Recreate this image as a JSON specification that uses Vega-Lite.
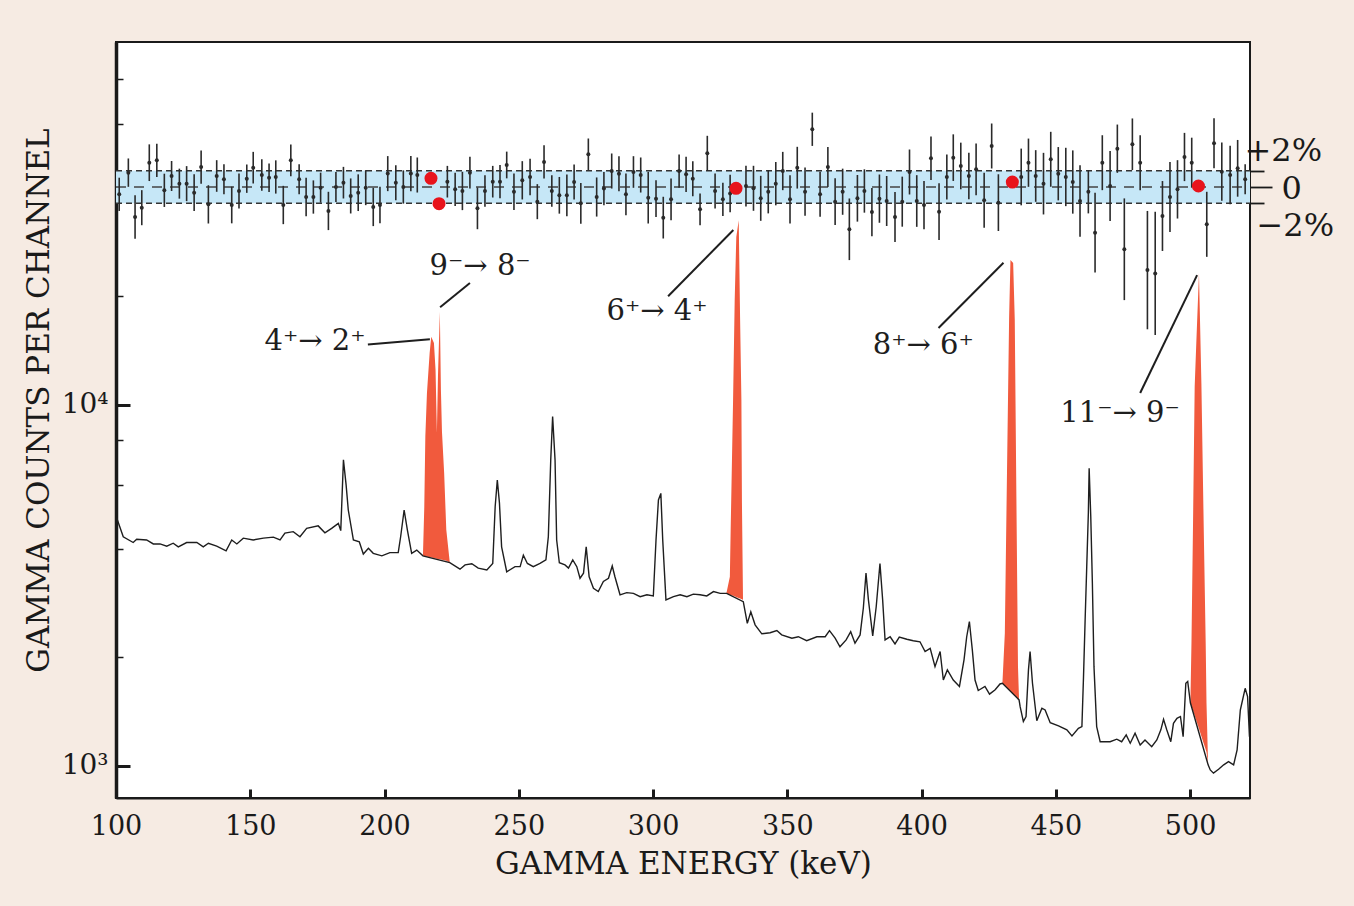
{
  "$schema": "https://vega.github.io/schema/vega-lite/v6.json",
  "description": "Gamma-ray spectrum with residuals band",
  "width": 1134,
  "height": 756,
  "autosize": {"type": "none"},
  "padding": {"left": 116, "top": 42, "right": 104, "bottom": 108},
  "background": "#f6ebe3",
  "config": {
    "font": "DejaVu Serif",
    "view": {"stroke": "#1a1a1a", "strokeWidth": 2, "fill": "white"},
    "axis": {
      "labelFont": "DejaVu Serif",
      "titleFont": "DejaVu Serif",
      "labelFontSize": 27,
      "titleFontSize": 31,
      "titleFontWeight": "normal",
      "labelColor": "#1a1a1a",
      "titleColor": "#1a1a1a",
      "domainColor": "#1a1a1a",
      "tickColor": "#1a1a1a",
      "grid": false
    }
  },
  "datasets": {
    "spec": [
      {"e": 100.3, "c": 4853}, {"e": 102.7, "c": 4315}, {"e": 106.4, "c": 4159}, {"e": 107.7, "c": 4246},
      {"e": 111.4, "c": 4227}, {"e": 113.9, "c": 4121}, {"e": 116.4, "c": 4121}, {"e": 118.9, "c": 4064},
      {"e": 121.3, "c": 4140}, {"e": 123.2, "c": 4046}, {"e": 126.3, "c": 4159}, {"e": 130.1, "c": 4159},
      {"e": 132.5, "c": 4046}, {"e": 134.4, "c": 4140}, {"e": 137.5, "c": 4064}, {"e": 141.0, "c": 3945},
      {"e": 143.1, "c": 4227}, {"e": 145.0, "c": 4121}, {"e": 147.4, "c": 4276}, {"e": 151.1, "c": 4227},
      {"e": 154.9, "c": 4276}, {"e": 158.6, "c": 4305}, {"e": 161.1, "c": 4227}, {"e": 162.9, "c": 4416},
      {"e": 166.0, "c": 4457}, {"e": 168.5, "c": 4315}, {"e": 171.0, "c": 4550}, {"e": 175.3, "c": 4624},
      {"e": 177.8, "c": 4426}, {"e": 180.3, "c": 4550}, {"e": 182.8, "c": 4699}, {"e": 183.7, "c": 4487},
      {"e": 184.7, "c": 7047}, {"e": 185.7, "c": 5998}, {"e": 186.5, "c": 5117}, {"e": 188.4, "c": 4227},
      {"e": 190.6, "c": 4178}, {"e": 192.1, "c": 3864}, {"e": 194.0, "c": 4009}, {"e": 195.8, "c": 3882},
      {"e": 199.0, "c": 3819}, {"e": 202.0, "c": 3899}, {"e": 205.1, "c": 3899}, {"e": 206.0, "c": 4315},
      {"e": 207.3, "c": 5117}, {"e": 208.5, "c": 4508}, {"e": 210.1, "c": 3882}, {"e": 212.0, "c": 3963},
      {"e": 214.3, "c": 3820}, {"e": 224.3, "c": 3660}, {"e": 228.1, "c": 3508}, {"e": 230.0, "c": 3606},
      {"e": 232.5, "c": 3631}, {"e": 234.9, "c": 3532}, {"e": 238.1, "c": 3491}, {"e": 240.3, "c": 3639},
      {"e": 241.2, "c": 5224}, {"e": 242.0, "c": 6194}, {"e": 242.8, "c": 5346}, {"e": 243.6, "c": 4046},
      {"e": 245.5, "c": 3451}, {"e": 248.6, "c": 3565}, {"e": 250.5, "c": 3565}, {"e": 251.7, "c": 3837},
      {"e": 253.2, "c": 3639}, {"e": 255.4, "c": 3565}, {"e": 257.9, "c": 3639}, {"e": 260.1, "c": 3724},
      {"e": 261.0, "c": 4315}, {"e": 261.9, "c": 7047}, {"e": 262.6, "c": 9290}, {"e": 263.5, "c": 7047},
      {"e": 264.1, "c": 4227}, {"e": 265.1, "c": 3656}, {"e": 267.2, "c": 3606}, {"e": 268.5, "c": 3532},
      {"e": 270.1, "c": 3724}, {"e": 271.6, "c": 3565}, {"e": 272.8, "c": 3311}, {"e": 274.1, "c": 3420},
      {"e": 275.1, "c": 4046}, {"e": 276.2, "c": 3342}, {"e": 277.8, "c": 3105}, {"e": 279.6, "c": 3041},
      {"e": 281.5, "c": 3243}, {"e": 283.4, "c": 3311}, {"e": 284.8, "c": 3581}, {"e": 285.8, "c": 3342},
      {"e": 287.7, "c": 2979}, {"e": 290.2, "c": 3020}, {"e": 292.7, "c": 3006}, {"e": 295.2, "c": 2944},
      {"e": 297.7, "c": 2979}, {"e": 300.1, "c": 2958}, {"e": 301.1, "c": 4227}, {"e": 302.0, "c": 5458},
      {"e": 302.9, "c": 5689}, {"e": 303.6, "c": 4227}, {"e": 304.8, "c": 2884}, {"e": 307.6, "c": 2944},
      {"e": 310.1, "c": 2979}, {"e": 312.6, "c": 2944}, {"e": 315.0, "c": 2992}, {"e": 317.5, "c": 2979},
      {"e": 320.0, "c": 2958}, {"e": 322.5, "c": 3041}, {"e": 325.0, "c": 3006}, {"e": 327.4, "c": 3006},
      {"e": 333.6, "c": 2851}, {"e": 335.1, "c": 2483}, {"e": 336.4, "c": 2673}, {"e": 338.0, "c": 2460},
      {"e": 340.5, "c": 2323}, {"e": 343.6, "c": 2339}, {"e": 346.1, "c": 2371}, {"e": 347.9, "c": 2307},
      {"e": 351.7, "c": 2259}, {"e": 354.1, "c": 2280}, {"e": 357.2, "c": 2223}, {"e": 361.0, "c": 2280},
      {"e": 364.1, "c": 2280}, {"e": 365.7, "c": 2371}, {"e": 367.8, "c": 2259}, {"e": 369.6, "c": 2138},
      {"e": 371.9, "c": 2234}, {"e": 373.6, "c": 2355}, {"e": 375.2, "c": 2188}, {"e": 377.1, "c": 2307},
      {"e": 378.3, "c": 2735}, {"e": 379.3, "c": 3420}, {"e": 380.2, "c": 2884}, {"e": 381.8, "c": 2291},
      {"e": 383.1, "c": 2761}, {"e": 384.5, "c": 3639}, {"e": 385.5, "c": 2884}, {"e": 386.4, "c": 2234},
      {"e": 388.3, "c": 2280}, {"e": 390.1, "c": 2178}, {"e": 391.7, "c": 2275}, {"e": 394.5, "c": 2244},
      {"e": 396.9, "c": 2223}, {"e": 399.4, "c": 2208}, {"e": 401.3, "c": 2075}, {"e": 403.2, "c": 2118},
      {"e": 405.0, "c": 1884}, {"e": 406.9, "c": 2075}, {"e": 408.1, "c": 1730}, {"e": 409.6, "c": 1845},
      {"e": 411.8, "c": 1730}, {"e": 414.1, "c": 1660}, {"e": 415.8, "c": 1968}, {"e": 416.8, "c": 2280},
      {"e": 417.8, "c": 2512}, {"e": 418.9, "c": 2094}, {"e": 419.9, "c": 1730}, {"e": 421.1, "c": 1618},
      {"e": 423.6, "c": 1660}, {"e": 425.3, "c": 1581}, {"e": 427.4, "c": 1626}, {"e": 429.2, "c": 1687},
      {"e": 430.1, "c": 1694}, {"e": 436.3, "c": 1524}, {"e": 436.7, "c": 1459}, {"e": 437.9, "c": 1327},
      {"e": 438.9, "c": 1371}, {"e": 439.8, "c": 1845}, {"e": 440.4, "c": 2075}, {"e": 441.3, "c": 1694},
      {"e": 442.9, "c": 1334}, {"e": 444.8, "c": 1445}, {"e": 446.0, "c": 1429}, {"e": 447.9, "c": 1318},
      {"e": 451.0, "c": 1291}, {"e": 454.1, "c": 1259}, {"e": 456.0, "c": 1211}, {"e": 458.4, "c": 1271},
      {"e": 459.7, "c": 1285}, {"e": 460.3, "c": 1766}, {"e": 460.9, "c": 2535}, {"e": 461.5, "c": 3565},
      {"e": 462.1, "c": 5012}, {"e": 462.4, "c": 6683}, {"e": 463.0, "c": 4909}, {"e": 463.6, "c": 3206},
      {"e": 464.2, "c": 1884}, {"e": 465.2, "c": 1285}, {"e": 466.5, "c": 1167}, {"e": 470.2, "c": 1167},
      {"e": 472.7, "c": 1186}, {"e": 474.5, "c": 1167}, {"e": 476.2, "c": 1219}, {"e": 477.7, "c": 1156},
      {"e": 479.5, "c": 1233}, {"e": 481.4, "c": 1143}, {"e": 483.2, "c": 1180}, {"e": 485.7, "c": 1130},
      {"e": 487.6, "c": 1180}, {"e": 489.1, "c": 1259}, {"e": 490.1, "c": 1346}, {"e": 491.3, "c": 1259},
      {"e": 492.8, "c": 1167}, {"e": 493.8, "c": 1312}, {"e": 495.1, "c": 1355}, {"e": 496.4, "c": 1371},
      {"e": 497.4, "c": 1205}, {"e": 498.4, "c": 1694}, {"e": 499.1, "c": 1714}, {"e": 500.1, "c": 1496},
      {"e": 506.7, "c": 1007}, {"e": 507.5, "c": 975}, {"e": 508.7, "c": 955}, {"e": 510.6, "c": 979},
      {"e": 512.5, "c": 1007}, {"e": 514.3, "c": 1028}, {"e": 516.2, "c": 1007}, {"e": 517.5, "c": 1107},
      {"e": 518.7, "c": 1429}, {"e": 520.5, "c": 1641}, {"e": 521.4, "c": 1556}, {"e": 522.1, "c": 1205}
    ],
    "peaks": [
      {"p": "a", "e": 214.3, "c": 3820, "b": 3820}, {"p": "a", "e": 214.8, "c": 5200, "b": 3814},
      {"p": "a", "e": 215.2, "c": 8200, "b": 3808}, {"p": "a", "e": 215.8, "c": 10800, "b": 3800},
      {"p": "a", "e": 216.8, "c": 13930, "b": 3790}, {"p": "a", "e": 217.4, "c": 15460, "b": 3780},
      {"p": "a", "e": 218.4, "c": 14860, "b": 3765}, {"p": "a", "e": 219.0, "c": 12500, "b": 3758},
      {"p": "a", "e": 219.5, "c": 8360, "b": 3750}, {"p": "a", "e": 219.9, "c": 12000, "b": 3745},
      {"p": "a", "e": 220.6, "c": 18120, "b": 3735}, {"p": "a", "e": 221.0, "c": 11000, "b": 3730},
      {"p": "a", "e": 221.4, "c": 8400, "b": 3725}, {"p": "a", "e": 222.2, "c": 6490, "b": 3715},
      {"p": "a", "e": 223.0, "c": 4510, "b": 3700}, {"p": "a", "e": 224.3, "c": 3660, "b": 3660},
      {"p": "b", "e": 327.3, "c": 3006, "b": 3006}, {"p": "b", "e": 328.6, "c": 3342, "b": 2980},
      {"p": "b", "e": 328.9, "c": 4508, "b": 2975}, {"p": "b", "e": 329.8, "c": 10320, "b": 2960},
      {"p": "b", "e": 330.4, "c": 19540, "b": 2950}, {"p": "b", "e": 331.0, "c": 29220, "b": 2935},
      {"p": "b", "e": 331.9, "c": 32500, "b": 2920}, {"p": "b", "e": 332.4, "c": 17570, "b": 2910},
      {"p": "b", "e": 332.9, "c": 10320, "b": 2900}, {"p": "b", "e": 333.1, "c": 5358, "b": 2895},
      {"p": "b", "e": 333.5, "c": 2884, "b": 2884},
      {"p": "c", "e": 430.1, "c": 1694, "b": 1694}, {"p": "c", "e": 431.0, "c": 2333, "b": 1670},
      {"p": "c", "e": 431.8, "c": 6471, "b": 1650}, {"p": "c", "e": 432.6, "c": 17570, "b": 1625},
      {"p": "c", "e": 433.1, "c": 25230, "b": 1612}, {"p": "c", "e": 434.1, "c": 24730, "b": 1585},
      {"p": "c", "e": 434.7, "c": 17190, "b": 1570}, {"p": "c", "e": 435.3, "c": 5575, "b": 1555},
      {"p": "c", "e": 435.9, "c": 1884, "b": 1540}, {"p": "c", "e": 436.3, "c": 1524, "b": 1524},
      {"p": "d", "e": 500.1, "c": 1496, "b": 1496}, {"p": "d", "e": 500.5, "c": 2188, "b": 1466},
      {"p": "d", "e": 501.1, "c": 4797, "b": 1422}, {"p": "d", "e": 501.7, "c": 11240, "b": 1379},
      {"p": "d", "e": 502.3, "c": 14820, "b": 1337}, {"p": "d", "e": 503.3, "c": 23180, "b": 1268},
      {"p": "d", "e": 504.2, "c": 11480, "b": 1209}, {"p": "d", "e": 505.1, "c": 4418, "b": 1152},
      {"p": "d", "e": 505.8, "c": 2188, "b": 1110}, {"p": "d", "e": 506.1, "c": 1493, "b": 1093},
      {"p": "d", "e": 506.7, "c": 1007, "b": 1007}
    ],
    "notes": [
      {"e": 174.1, "c": 15000, "t": "4⁺→ 2⁺"},
      {"e": 235.6, "c": 24300, "t": "9⁻→ 8⁻"},
      {"e": 301.5, "c": 18200, "t": "6⁺→ 4⁺"},
      {"e": 400.6, "c": 14660, "t": "8⁺→ 6⁺"},
      {"e": 473.9, "c": 9500, "t": "11⁻→ 9⁻"}
    ],
    "leads": [
      {"e": 193.8, "c": 14700, "e2": 216.9, "c2": 15200},
      {"e": 220.7, "c": 18660, "e2": 231.8, "c2": 21770},
      {"e": 305.6, "c": 20000, "e2": 329.9, "c2": 30540},
      {"e": 406.3, "c": 16340, "e2": 430.5, "c2": 24780},
      {"e": 481.4, "c": 10790, "e2": 502.6, "c2": 22900}
    ],
    "band": [{"e": 100, "e2": 522.3, "lo": -2, "hi": 2}],
    "edges": [{"e": 100, "e2": 522.3, "v": 2}, {"e": 100, "e2": 522.3, "v": -2}],
    "mid": [{"e": 100, "e2": 522.3, "v": 0}],
    "res": [
      {"e": 101.2, "r": -0.90, "err": 2.04}, {"e": 104.6, "r": 1.76, "err": 1.74}, {"e": 107.1, "r": -3.68, "err": 2.66},
      {"e": 109.6, "r": -2.54, "err": 2.15}, {"e": 112.4, "r": 2.98, "err": 2.25}, {"e": 115.2, "r": 3.27, "err": 2.04},
      {"e": 118.0, "r": -0.41, "err": 2.04}, {"e": 120.7, "r": 1.35, "err": 1.84}, {"e": 123.6, "r": 0.41, "err": 1.84},
      {"e": 126.3, "r": 0.41, "err": 2.15}, {"e": 129.1, "r": -0.70, "err": 2.25}, {"e": 131.7, "r": 2.45, "err": 2.04},
      {"e": 134.4, "r": -2.13, "err": 2.35}, {"e": 137.5, "r": 1.35, "err": 1.94}, {"e": 140.2, "r": 0.94, "err": 1.84},
      {"e": 143.1, "r": -2.21, "err": 2.25}, {"e": 145.8, "r": -0.49, "err": 2.15}, {"e": 148.7, "r": 1.02, "err": 1.74},
      {"e": 151.1, "r": 2.37, "err": 1.94}, {"e": 154.3, "r": 1.47, "err": 1.94}, {"e": 157.0, "r": 1.14, "err": 1.74},
      {"e": 159.5, "r": 1.23, "err": 2.04}, {"e": 162.3, "r": -2.21, "err": 2.35}, {"e": 165.1, "r": 3.27, "err": 1.94},
      {"e": 168.2, "r": 0.94, "err": 1.84}, {"e": 170.8, "r": -1.23, "err": 2.35}, {"e": 173.5, "r": -1.23, "err": 2.04},
      {"e": 176.2, "r": -0.08, "err": 1.84}, {"e": 179.1, "r": -2.94, "err": 2.35}, {"e": 181.9, "r": 0.0, "err": 1.84},
      {"e": 184.7, "r": 0.53, "err": 1.94}, {"e": 187.4, "r": -1.10, "err": 2.15}, {"e": 190.2, "r": -0.70, "err": 2.25},
      {"e": 193.0, "r": -0.08, "err": 2.15}, {"e": 195.8, "r": -2.45, "err": 2.35}, {"e": 198.3, "r": -2.21, "err": 2.25},
      {"e": 201.2, "r": 1.64, "err": 2.15}, {"e": 204.2, "r": 0.53, "err": 2.15}, {"e": 207.0, "r": 0.0, "err": 2.04},
      {"e": 209.8, "r": 1.64, "err": 2.15}, {"e": 212.2, "r": 1.47, "err": 2.15}, {"e": 223.4, "r": 0.65, "err": 1.94},
      {"e": 226.3, "r": -0.29, "err": 2.04}, {"e": 229.0, "r": -0.49, "err": 2.35}, {"e": 231.8, "r": 1.76, "err": 1.94},
      {"e": 234.6, "r": -2.62, "err": 2.56}, {"e": 237.4, "r": -0.49, "err": 1.94}, {"e": 240.3, "r": 0.65, "err": 1.94},
      {"e": 243.0, "r": 0.65, "err": 2.04}, {"e": 245.5, "r": 2.70, "err": 1.64}, {"e": 248.2, "r": -0.58, "err": 2.25},
      {"e": 251.3, "r": 0.82, "err": 2.35}, {"e": 254.2, "r": 1.23, "err": 2.25}, {"e": 256.9, "r": -1.80, "err": 2.15},
      {"e": 259.4, "r": 3.07, "err": 2.04}, {"e": 262.3, "r": -0.49, "err": 1.94}, {"e": 265.1, "r": -1.02, "err": 2.25},
      {"e": 267.9, "r": -1.02, "err": 2.56}, {"e": 270.6, "r": 0.61, "err": 2.15}, {"e": 273.1, "r": -2.00, "err": 2.5},
      {"e": 275.9, "r": 4.01, "err": 1.94}, {"e": 279.0, "r": -1.23, "err": 2.4}, {"e": 281.7, "r": -0.20, "err": 2.04},
      {"e": 284.6, "r": 1.96, "err": 2.15}, {"e": 287.3, "r": 1.63, "err": 2.15}, {"e": 289.9, "r": -0.90, "err": 2.56},
      {"e": 292.7, "r": 1.84, "err": 1.94}, {"e": 295.4, "r": 1.47, "err": 2.15}, {"e": 298.2, "r": -1.31, "err": 3.17},
      {"e": 301.1, "r": -1.43, "err": 2.25}, {"e": 303.8, "r": -3.76, "err": 2.56}, {"e": 306.7, "r": -1.51, "err": 2.56},
      {"e": 309.7, "r": 1.96, "err": 2.04}, {"e": 312.3, "r": 1.55, "err": 2.15}, {"e": 314.8, "r": 1.02, "err": 2.15},
      {"e": 317.5, "r": -2.74, "err": 1.94}, {"e": 320.2, "r": 4.13, "err": 2.15}, {"e": 323.1, "r": -0.49, "err": 2.15},
      {"e": 326.0, "r": -1.51, "err": 2.04}, {"e": 328.7, "r": -0.80, "err": 2.3}, {"e": 334.6, "r": 0.12, "err": 2.5},
      {"e": 337.4, "r": -0.16, "err": 2.76}, {"e": 340.1, "r": -1.39, "err": 2.76}, {"e": 342.9, "r": -0.58, "err": 2.66},
      {"e": 345.7, "r": 0.41, "err": 2.66}, {"e": 348.3, "r": 1.96, "err": 2.35}, {"e": 351.0, "r": -1.51, "err": 2.96},
      {"e": 353.7, "r": 2.37, "err": 2.56}, {"e": 356.6, "r": -0.58, "err": 2.96}, {"e": 359.3, "r": 7.08, "err": 2.04},
      {"e": 362.2, "r": -0.90, "err": 2.76}, {"e": 365.1, "r": 2.45, "err": 2.45}, {"e": 367.8, "r": -1.80, "err": 2.86},
      {"e": 370.6, "r": -0.58, "err": 2.83}, {"e": 373.1, "r": -5.19, "err": 3.78}, {"e": 376.1, "r": -1.39, "err": 2.86},
      {"e": 378.7, "r": -0.49, "err": 2.66}, {"e": 381.5, "r": -3.07, "err": 2.96}, {"e": 384.3, "r": -1.43, "err": 2.96},
      {"e": 387.0, "r": -1.72, "err": 3.07}, {"e": 390.1, "r": -3.68, "err": 3.07}, {"e": 392.8, "r": -1.80, "err": 3.07},
      {"e": 395.5, "r": 1.84, "err": 2.76}, {"e": 398.2, "r": -1.72, "err": 3.17}, {"e": 400.9, "r": -2.21, "err": 2.96},
      {"e": 403.5, "r": 3.52, "err": 2.66}, {"e": 406.5, "r": -3.03, "err": 3.48}, {"e": 409.4, "r": 1.23, "err": 2.76},
      {"e": 411.8, "r": 3.60, "err": 2.86}, {"e": 414.6, "r": 2.58, "err": 2.86}, {"e": 417.6, "r": 1.35, "err": 2.86},
      {"e": 420.3, "r": 2.17, "err": 3.17}, {"e": 423.3, "r": -1.63, "err": 3.37}, {"e": 426.1, "r": 5.03, "err": 2.76},
      {"e": 428.6, "r": -1.92, "err": 3.48}, {"e": 437.1, "r": 1.23, "err": 3.48}, {"e": 439.8, "r": 2.98, "err": 2.96},
      {"e": 442.5, "r": 1.35, "err": 3.17}, {"e": 445.4, "r": 0.41, "err": 3.78}, {"e": 448.1, "r": 3.40, "err": 3.37},
      {"e": 450.9, "r": 1.63, "err": 3.27}, {"e": 453.7, "r": 1.23, "err": 3.58}, {"e": 456.3, "r": 0.61, "err": 3.88},
      {"e": 459.0, "r": -1.72, "err": 4.40}, {"e": 462.1, "r": -0.58, "err": 2.66}, {"e": 464.6, "r": -5.60, "err": 4.9},
      {"e": 467.3, "r": 2.98, "err": 3.37}, {"e": 470.2, "r": 0.12, "err": 4.29}, {"e": 472.9, "r": 4.70, "err": 2.96},
      {"e": 475.5, "r": -7.64, "err": 6.24}, {"e": 478.5, "r": 5.24, "err": 3.17}, {"e": 481.4, "r": 2.98, "err": 3.37},
      {"e": 484.1, "r": -10.2, "err": 7.26}, {"e": 487.0, "r": -10.6, "err": 7.56}, {"e": 489.7, "r": -3.56, "err": 4.29},
      {"e": 492.5, "r": -1.23, "err": 4.29}, {"e": 495.3, "r": -0.29, "err": 3.58}, {"e": 497.9, "r": 3.68, "err": 2.96},
      {"e": 500.6, "r": 2.98, "err": 3.07}, {"e": 506.2, "r": -4.58, "err": 3.99}, {"e": 508.9, "r": 5.36, "err": 3.07},
      {"e": 511.8, "r": 1.88, "err": 3.58}, {"e": 514.9, "r": 1.47, "err": 3.58}, {"e": 517.7, "r": 2.29, "err": 3.48},
      {"e": 520.5, "r": 0.94, "err": 1.84}
    ],
    "hl": [
      {"e": 217.3, "r": 1.06}, {"e": 220.3, "r": -2.05}, {"e": 330.9, "r": -0.16},
      {"e": 433.8, "r": 0.61}, {"e": 503.1, "r": 0.12}
    ]
  },
  "encoding": {
    "x": {
      "field": "e",
      "type": "quantitative",
      "scale": {"domain": [100, 522.3], "nice": false, "zero": false},
      "axis": {
        "orient": "bottom",
        "values": [100, 150, 200, 250, 300, 350, 400, 450, 500],
        "format": "d",
        "labelFlush": false,
        "labelOverlap": false,
        "tickSize": -9,
        "tickWidth": 3,
        "domainWidth": 2,
        "labelPadding": 24,
        "title": "GAMMA ENERGY (keV)",
        "titlePadding": 10
      },
      "title": "GAMMA ENERGY (keV)"
    }
  },
  "layer": [
    {
      "layer": [
        {
          "data": {"name": "peaks"},
          "mark": {"type": "area", "color": "#f15a3d", "opacity": 1, "interpolate": "linear"},
          "encoding": {
            "y": {
              "field": "c",
              "type": "quantitative",
              "scale": {"type": "log", "domain": [815, 101300], "nice": false},
              "axis": {
                "orient": "left",
                "values": [1000, 2000, 4000, 6000, 8000, 10000, 20000, 40000, 60000, 80000],
                "labelExpr": "datum.value == 10000 ? '10⁴' : datum.value == 1000 ? '10³' : ''",
                "labelFontSize": 28,
                "tickSize": {"condition": {"test": "datum.value == 1000 || datum.value == 10000", "value": -14}, "value": -7},
                "tickWidth": {"condition": {"test": "datum.value == 1000 || datum.value == 10000", "value": 3}, "value": 1.5},
                "domainWidth": 3.5,
                "labelPadding": 22,
                "title": "GAMMA COUNTS PER CHANNEL",
                "titlePadding": 6,
                "titleY": 358
              }
            },
            "y2": {"field": "b"},
            "detail": {"field": "p", "type": "nominal"}
          }
        },
        {
          "data": {"name": "spec"},
          "mark": {"type": "line", "color": "#1e1e1e", "strokeWidth": 1.4},
          "encoding": {
            "y": {"field": "c", "type": "quantitative", "scale": {"type": "log", "domain": [815, 101300], "nice": false}}
          }
        },
        {
          "data": {"name": "leads"},
          "mark": {"type": "rule", "color": "#1e1e1e", "strokeWidth": 2},
          "encoding": {
            "y": {"field": "c", "type": "quantitative", "scale": {"type": "log", "domain": [815, 101300], "nice": false}},
            "x2": {"field": "e2"},
            "y2": {"field": "c2"}
          }
        },
        {
          "data": {"name": "notes"},
          "mark": {"type": "text", "font": "DejaVu Serif", "fontSize": 29, "color": "#1e1e1e", "align": "center", "baseline": "middle"},
          "encoding": {
            "y": {"field": "c", "type": "quantitative", "scale": {"type": "log", "domain": [815, 101300], "nice": false}},
            "text": {"field": "t", "type": "nominal"}
          }
        }
      ]
    },
    {
      "layer": [
        {
          "data": {"name": "band"},
          "mark": {"type": "rect", "color": "#c6e7f7", "opacity": 1},
          "encoding": {
            "x2": {"field": "e2"},
            "y": {
              "field": "lo",
              "type": "quantitative",
              "scale": {"domain": [-74.97, 17.79], "nice": false, "zero": false},
              "axis": {
                "orient": "right",
                "values": [-2, 0, 2],
                "labelExpr": "datum.value > 0 ? '+2%' : datum.value < 0 ? '−2%' : '0'",
                "labelFontSize": 32,
                "labelAlign": "left",
                "domain": false,
                "tickSize": {"condition": {"test": "datum.value == 0", "value": 22}, "value": 14},
                "tickWidth": 1.8,
                "labelPadding": {"condition": [{"test": "datum.value > 0", "value": -20}, {"test": "datum.value < 0", "value": -8}], "value": 9},
                "labelOffset": {"condition": [{"test": "datum.value > 0", "value": -20}, {"test": "datum.value < 0", "value": 22}], "value": 2},
                "title": null
              }
            },
            "y2": {"field": "hi"}
          }
        },
        {
          "data": {"name": "edges"},
          "mark": {"type": "rule", "color": "#333333", "strokeWidth": 1.6, "strokeDash": [6, 4]},
          "encoding": {
            "x2": {"field": "e2"},
            "y": {"field": "v", "type": "quantitative", "scale": {"domain": [-74.97, 17.79], "nice": false, "zero": false}}
          }
        },
        {
          "data": {"name": "mid"},
          "mark": {"type": "rule", "color": "#444444", "strokeWidth": 1.3, "strokeDash": [10, 8]},
          "encoding": {
            "x2": {"field": "e2"},
            "y": {"field": "v", "type": "quantitative", "scale": {"domain": [-74.97, 17.79], "nice": false, "zero": false}}
          }
        },
        {
          "data": {"name": "res"},
          "mark": {"type": "errorbar", "color": "#2a2a2a", "thickness": 1.6},
          "encoding": {
            "y": {"field": "r", "type": "quantitative", "scale": {"domain": [-74.97, 17.79], "nice": false, "zero": false}},
            "yError": {"field": "err"}
          }
        },
        {
          "data": {"name": "res"},
          "mark": {"type": "point", "filled": true, "color": "#2a2a2a", "size": 16, "opacity": 1},
          "encoding": {
            "y": {"field": "r", "type": "quantitative", "scale": {"domain": [-74.97, 17.79], "nice": false, "zero": false}}
          }
        },
        {
          "data": {"name": "hl"},
          "mark": {"type": "point", "filled": true, "color": "#e8141c", "size": 170, "opacity": 1},
          "encoding": {
            "y": {"field": "r", "type": "quantitative", "scale": {"domain": [-74.97, 17.79], "nice": false, "zero": false}}
          }
        }
      ]
    }
  ],
  "resolve": {"scale": {"y": "independent"}, "axis": {"y": "independent"}}
}
